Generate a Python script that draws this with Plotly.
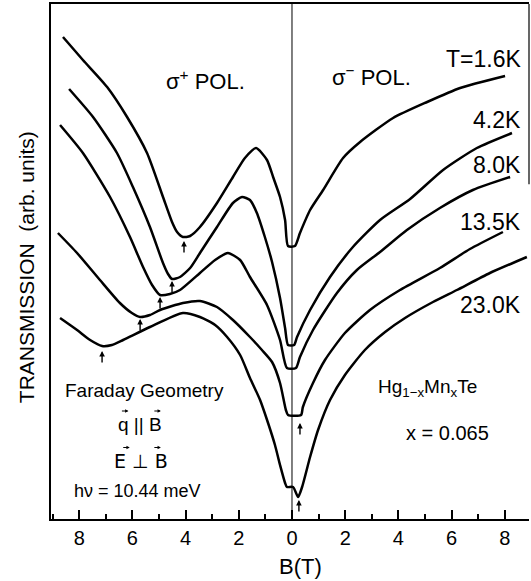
import plotly.graph_objects as go

# Magnetic field B (T); negative = sigma+ side (labelled with absolute values)
B_16 = [-8.61, -7.86, -6.95, -6.20, -5.45, -4.85, -4.51, -4.32, -4.10, -3.83, -3.46, -2.82, -2.22, -1.77, -1.35,
        -0.94, -0.71, -0.45, -0.26, -0.15, 0.11, 0.30, 0.68, 1.17, 1.92, 2.56, 3.80, 5.08, 6.32, 8.01]
T_16 = [9.64, 9.18, 8.64, 8.04, 7.32, 6.44, 5.94, 5.74, 5.64, 5.66, 5.84, 6.32, 6.84, 7.22, 7.42,
        7.18, 6.84, 6.44, 5.98, 5.46, 5.46, 5.72, 6.18, 6.58, 7.22, 7.54, 8.02, 8.34, 8.62, 8.86]

B_42 = [-8.38, -7.48, -6.58, -5.98, -5.34, -4.85, -4.66, -4.51, -4.21, -3.83, -3.46, -2.82, -2.22, -1.88, -1.58,
        -1.32, -1.02, -0.75, -0.45, -0.26, -0.15, 0.08, 0.19, 0.68, 1.43, 2.29, 3.31, 4.44, 5.68, 6.95, 8.27]
T_42 = [8.60, 8.04, 7.32, 6.64, 5.84, 5.12, 4.90, 4.80, 4.84, 5.02, 5.32, 5.84, 6.32, 6.44, 6.38,
        6.12, 5.64, 5.14, 4.42, 3.82, 3.48, 3.48, 3.64, 4.18, 4.84, 5.44, 5.98, 6.40, 6.98, 7.42, 7.72]

B_80 = [-8.72, -7.86, -6.84, -6.09, -5.60, -5.26, -4.96, -4.59, -4.21, -3.46, -2.89, -2.41, -1.95, -1.58,
        -0.94, -0.45, -0.19, 0.15, 0.30, 0.79, 1.69, 2.44, 3.31, 4.32, 5.56, 6.80, 8.20]
T_80 = [7.88, 7.32, 6.44, 5.64, 5.04, 4.68, 4.48, 4.50, 4.58, 4.92, 5.18, 5.32, 5.18, 4.84,
        4.28, 3.58, 3.02, 3.02, 3.24, 3.78, 4.52, 4.98, 5.34, 5.78, 6.22, 6.58, 6.84]

B_135 = [-8.80, -8.08, -7.22, -6.47, -6.02, -5.71, -5.34, -4.96, -4.10, -3.46, -2.82, -2.22, -1.58, -1.13,
         -0.75, -0.45, -0.23, -0.15, 0.34, 0.41, 0.79, 1.24, 1.99, 2.93, 4.06, 5.56, 6.69, 7.93]
T_135 = [5.72, 5.32, 4.78, 4.32, 4.12, 4.04, 4.08, 4.18, 4.32, 4.36, 4.24, 3.98, 3.64, 3.38,
         3.14, 2.72, 2.18, 2.08, 2.08, 2.24, 2.72, 3.18, 3.72, 4.18, 4.58, 5.02, 5.40, 5.74]

B_230 = [-8.72, -8.08, -7.59, -7.14, -6.77, -6.35, -5.34, -4.10, -3.46, -2.89, -2.44, -1.95, -1.58, -1.20,
         -0.90, -0.64, -0.45, -0.26, -0.19, 0.04, 0.23, 0.38, 0.68, 0.98, 1.43, 1.99, 2.74, 3.50, 4.25,
         5.30, 6.20, 7.44, 8.83]
T_230 = [4.02, 3.78, 3.58, 3.46, 3.48, 3.58, 3.84, 4.12, 4.04, 3.88, 3.64, 3.28, 2.82, 2.38,
         1.92, 1.48, 1.08, 0.72, 0.64, 0.64, 0.44, 0.64, 1.24, 1.78, 2.38, 2.88, 3.38, 3.74, 4.02,
         4.34, 4.58, 4.92, 5.24]

series = [(B_16, T_16), (B_42, T_42), (B_80, T_80), (B_135, T_135), (B_230, T_230)]

temp_labels = ["T=1.6K", "4.2K", "8.0K", "13.5K", "23.0K"]
temp_label_y = [9.20, 7.98, 7.08, 5.94, 4.28]

# resonance arrows (tip positions)
arrow_B = [-4.06, -4.51, -4.96, -5.71, -7.14, 0.30, 0.26]
arrow_T = [5.56, 4.76, 4.44, 4.00, 3.36, 1.92, 0.38]

tick_vals = [-8, -6, -4, -2, 0, 2, 4, 6, 8]
tick_text = ["8", "6", "4", "2", "0", "2", "4", "6", "8"]
minor_vals = [-9, -7, -5, -3, -1, 1, 3, 5, 7]

FONT = "Liberation Sans, Arial, sans-serif"
SYM = "DejaVu Sans, sans-serif"

fig = go.Figure()
for bx, ty in series:
    fig.add_trace(go.Scatter(x=bx, y=ty, mode="lines",
                             line=dict(color="black", width=2.5, shape="spline", smoothing=0.6),
                             showlegend=False, hoverinfo="skip"))

ann = []
for lab, yy in zip(temp_labels, temp_label_y):
    ann.append(dict(x=8.68, y=yy, xref="x", yref="y", text=lab, showarrow=False,
                    xanchor="right", yanchor="middle", font=dict(size=23, color="black", family=FONT)))

for bx, ty in zip(arrow_B, arrow_T):
    ann.append(dict(x=bx, y=ty, xref="x", yref="y", ax=0, ay=13, axref="pixel", ayref="pixel",
                    text="", showarrow=True, arrowhead=2, arrowsize=0.8, arrowwidth=1.4,
                    arrowcolor="black"))

texts = [
    ("σ<sup>+</sup> POL.", -3.25, 8.78, 22, FONT),
    ("σ<sup>−</sup> POL.", 2.98, 8.86, 22, FONT),
    ("Faraday Geometry", -5.53, 2.58, 19, FONT),
    ("q || B", -5.71, 1.90, 19, FONT),
    ("E \u22a5 B", -5.68, 1.16, 19, SYM),
    ("hν = 10.44 meV", -5.79, 0.56, 18, FONT),
    ("Hg<sub>1−x</sub>Mn<sub>x</sub>Te", 5.08, 2.62, 19, FONT),
    ("x = 0.065", 5.83, 1.72, 20, FONT),
]
for t, xx, yy, fs, fam in texts:
    ann.append(dict(x=xx, y=yy, xref="x", yref="y", text=t, showarrow=False,
                    xanchor="center", yanchor="middle", font=dict(size=fs, color="black", family=fam)))

# small vector arrows above q, B, E, B (arrow tips)
vec_B = [-6.15, -4.93, -6.10, -4.93]
vec_T = [2.16, 2.16, 1.43, 1.43]
for xx, yy in zip(vec_B, vec_T):
    ann.append(dict(x=xx, y=yy, xref="x", yref="y", ax=-8, ay=0, axref="pixel", ayref="pixel",
                    text="", showarrow=True, arrowhead=2, arrowsize=0.6, arrowwidth=1.1,
                    arrowcolor="black"))

ann.append(dict(x=-0.0523, y=0.489, xref="paper", yref="paper", text="TRANSMISSION  (arb. units)",
                textangle=-90, showarrow=False, xanchor="center", yanchor="middle",
                font=dict(size=21, color="black", family=FONT)))
ann.append(dict(x=0.521, y=-0.093, xref="paper", yref="paper", text="B(T)", showarrow=False,
                xanchor="center", yanchor="middle", font=dict(size=22, color="black", family=FONT)))

shapes = [
    dict(type="line", xref="x", yref="paper", x0=0, x1=0, y0=0, y1=1, line=dict(color="black", width=1)),
    dict(type="line", xref="paper", yref="paper", x0=1, x1=1, y0=0.65, y1=1, line=dict(color="black", width=1.2)),
]

fig.update_layout(
    width=531, height=581,
    margin=dict(l=51, r=2, t=4, b=62),
    paper_bgcolor="white", plot_bgcolor="white",
    annotations=ann, shapes=shapes,
    xaxis=dict(range=[-9.06, 8.91], tickmode="array", tickvals=tick_vals, ticktext=tick_text,
               ticks="inside", ticklen=9, tickwidth=1.5, tickcolor="black",
               minor=dict(tickmode="array", tickvals=minor_vals, ticks="inside", ticklen=5,
                          tickwidth=1.5, tickcolor="black"),
               showline=True, linecolor="black", linewidth=1.5, mirror=True,
               showgrid=False, zeroline=False,
               tickfont=dict(size=20, color="black", family=FONT)),
    yaxis=dict(range=[0, 10.3], showticklabels=False, ticks="", showline=True, linecolor="black",
               linewidth=1.5, showgrid=False, zeroline=False),
)

fig.write_html("out.html", config={"displayModeBar": False},
               post_script="document.body.style.margin='0px';document.body.style.padding='0px';")
